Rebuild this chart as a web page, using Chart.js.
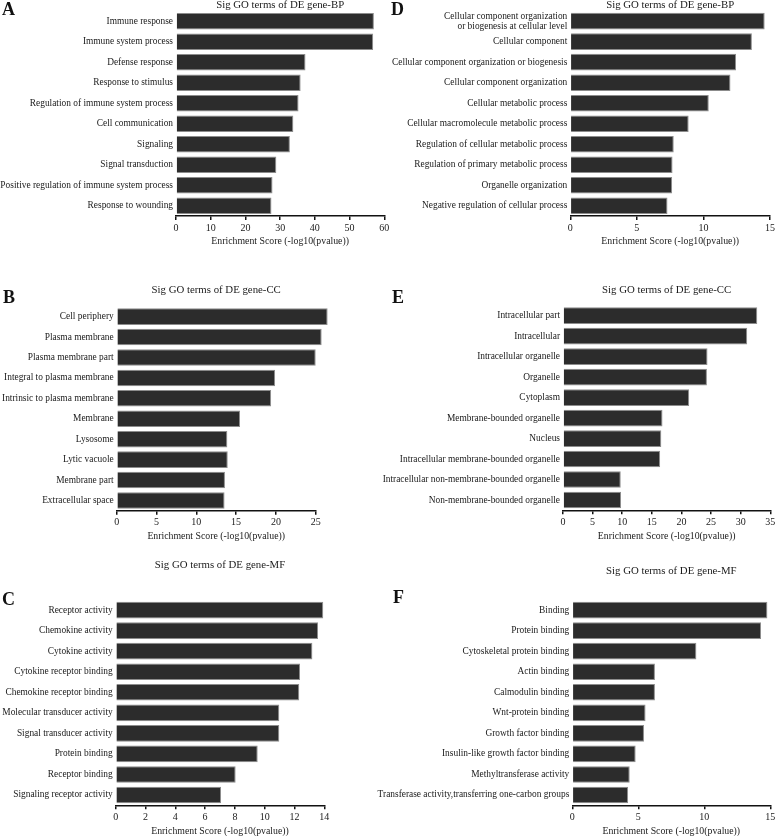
<!DOCTYPE html>
<html>
<head>
<meta charset="utf-8">
<script src="https://cdn.jsdelivr.net/npm/chart.js@4.4.0/dist/chart.umd.min.js"></script>
<style>
  body { margin: 0; background: #fff; }
  #figure { position: relative; width: 777px; height: 836px; overflow: hidden; background: #fff; }
  #figure canvas { position: absolute; }
  .panel-letter {
    position: absolute;
    font-family: 'Liberation Serif', 'Times New Roman', serif;
    font-weight: bold;
    font-size: 18px;
    line-height: 1;
    color: #111;
  }
</style>
</head>
<body>
<div id="figure"></div>
<script>
// A - biological process
const termsA = ['Immune response', 'Immune system process', 'Defense response', 'Response to stimulus',
    'Regulation of immune system process', 'Cell communication', 'Signaling', 'Signal transduction',
    'Positive regulation of immune system process', 'Response to wounding'];
const scoresA = [57.0, 56.8, 37.3, 35.9, 35.3, 33.8, 32.8, 28.9, 27.8, 27.5];

// B - cellular component
const termsB = ['Cell periphery', 'Plasma membrane', 'Plasma membrane part', 'Integral to plasma membrane',
    'Intrinsic to plasma membrane', 'Membrane', 'Lysosome', 'Lytic vacuole', 'Membrane part', 'Extracellular space'];
const scoresB = [26.5, 25.75, 25.0, 19.9, 19.4, 15.5, 13.9, 13.95, 13.6, 13.55];

// C - molecular function
const termsC = ['Receptor activity', 'Chemokine activity', 'Cytokine activity', 'Cytokine receptor binding',
    'Chemokine receptor binding', 'Molecular transducer activity', 'Signal transducer activity',
    'Protein binding', 'Receptor binding', 'Signaling receptor activity'];
const scoresC = [13.93, 13.58, 13.2, 12.37, 12.32, 10.98, 10.98, 9.53, 8.05, 7.07];

// D - biological process (second set)
const termsD = [['Cellular component organization', 'or biogenesis at cellular level'], 'Cellular component',
    'Cellular component organization or biogenesis', 'Cellular component organization',
    'Cellular metabolic process', 'Cellular macromolecule metabolic process',
    'Regulation of cellular metabolic process', 'Regulation of primary metabolic process',
    'Organelle organization', 'Negative regulation of cellular process'];
const scoresD = [14.6, 13.64, 12.45, 12.03, 10.4, 8.89, 7.77, 7.68, 7.65, 7.3];

// E - cellular component (second set)
const termsE = ['Intracellular part', 'Intracellular', 'Intracellular organelle', 'Organelle', 'Cytoplasm',
    'Membrane-bounded organelle', 'Nucleus', 'Intracellular membrane-bounded organelle',
    'Intracellular non-membrane-bounded organelle', 'Non-membrane-bounded organelle'];
const scoresE = [32.8, 31.1, 24.4, 24.3, 21.3, 16.8, 16.6, 16.4, 9.75, 9.8];

// F - molecular function (second set)
const termsF = ['Binding', 'Protein binding', 'Cytoskeletal protein binding', 'Actin binding', 'Calmodulin binding',
    'Wnt-protein binding', 'Growth factor binding', 'Insulin-like growth factor binding',
    'Methyltransferase activity', 'Transferase activity,transferring one-carbon groups'];
const scoresF = [14.78, 14.3, 9.4, 6.26, 6.26, 5.55, 5.43, 4.8, 4.35, 4.23];

// axis ranges per panel
const axisMax = { A: 60, B: 25, C: 14, D: 15, E: 35, F: 15 };
const axisStep = { A: 10, B: 5, C: 2, D: 5, E: 5, F: 5 };

const xAxisLabel = 'Enrichment Score (-log10(pvalue))';
const serif = "'Liberation Serif', 'Times New Roman', serif";

// Page placement of each panel (pixels)
const panels = [
    { id: 'A', title: 'Sig GO terms of DE gene-BP', terms: termsA, scores: scoresA,
      left: 0, width: 395, plotLeft: 176, plotRight: 384.3, titleY: 5, plotTop: 11, plotBottom: 216,
      tickY: 228, axisTitleY: 241, letter: [2, 0] },
    { id: 'B', title: 'Sig GO terms of DE gene-CC', terms: termsB, scores: scoresB,
      left: 0, width: 395, plotLeft: 116.7, plotRight: 315.7, titleY: 290, plotTop: 306.4, plotBottom: 510.7,
      tickY: 522, axisTitleY: 536.7, letter: [3, 288] },
    { id: 'C', title: 'Sig GO terms of DE gene-MF', terms: termsC, scores: scoresC,
      left: 0, width: 395, plotLeft: 115.7, plotRight: 324.3, titleY: 565, plotTop: 599.8, plotBottom: 805.3,
      tickY: 817, axisTitleY: 831, letter: [2, 590] },
    { id: 'D', title: 'Sig GO terms of DE gene-BP', terms: termsD, scores: scoresD,
      left: 360, width: 417, plotLeft: 570.3, plotRight: 772.3, titleY: 5.5, plotTop: 10, plotBottom: 216,
      tickY: 228, axisTitleY: 241, letter: [391, 0], labelLineHeight: 1.05 },
    { id: 'E', title: 'Sig GO terms of DE gene-CC', terms: termsE, scores: scoresE,
      left: 360, width: 417, plotLeft: 563, plotRight: 772.3, titleY: 290, plotTop: 305.4, plotBottom: 510.3,
      tickY: 522, axisTitleY: 536.7, letter: [392, 288] },
    { id: 'F', title: 'Sig GO terms of DE gene-MF', terms: termsF, scores: scoresF,
      left: 360, width: 417, plotLeft: 572.3, plotRight: 772.3, titleY: 571, plotTop: 599.8, plotBottom: 805.3,
      tickY: 817, axisTitleY: 831, letter: [393, 588] }
];

const figure = document.getElementById('figure');

panels.forEach(p => {
    const titleSize = 10.8;
    const titleBox = titleSize; // lineHeight 1
    const canvasTop = Math.floor(p.titleY - titleBox / 2);
    const titlePadTop = p.titleY - titleBox / 2 - canvasTop;
    const titlePadBottom = Math.max(0, p.plotTop - (p.titleY + titleBox / 2));

    const tickFont = { family: serif, size: 10, lineHeight: 1.2 };
    const axisTitleFont = { family: serif, size: 9.8, lineHeight: 1.2 };
    const tickLen = 4;
    const xScaleHeight = p.axisTitleY + axisTitleFont.size * axisTitleFont.lineHeight / 2 - p.plotBottom;
    const tickPad = p.tickY - p.plotBottom - tickLen - tickFont.size * tickFont.lineHeight / 2;

    const rawHeight = p.plotBottom + xScaleHeight - canvasTop;
    const canvasHeight = Math.ceil(rawHeight);
    const yWidth = p.plotLeft - p.left;

    const canvas = document.createElement('canvas');
    canvas.width = p.width;
    canvas.height = canvasHeight;
    canvas.style.left = p.left + 'px';
    canvas.style.top = canvasTop + 'px';
    figure.appendChild(canvas);

    const letter = document.createElement('div');
    letter.className = 'panel-letter';
    letter.textContent = p.id;
    letter.style.left = p.letter[0] + 'px';
    letter.style.top = p.letter[1] + 'px';
    figure.appendChild(letter);

    new Chart(canvas, {
        type: 'bar',
        data: {
            labels: p.terms,
            datasets: [{
                data: p.scores,
                backgroundColor: '#2c2c2c',
                borderColor: '#8c8c8c',
                borderWidth: 1,
                barPercentage: 0.81,
                categoryPercentage: 1,
                clip: false
            }]
        },
        options: {
            responsive: false,
            animation: false,
            indexAxis: 'y',
            layout: {
                autoPadding: false,
                padding: {
                    left: 0,
                    top: 0,
                    right: p.left + p.width - p.plotRight,
                    bottom: canvasHeight - rawHeight
                }
            },
            plugins: {
                legend: { display: false },
                tooltip: { enabled: false },
                title: {
                    display: true,
                    text: p.title,
                    fullSize: false,
                    color: '#1a1a1a',
                    font: { family: serif, size: titleSize, weight: 'normal', lineHeight: 1 },
                    padding: { top: titlePadTop, bottom: titlePadBottom }
                }
            },
            scales: {
                x: {
                    type: 'linear',
                    min: 0,
                    max: axisMax[p.id],
                    ticks: {
                        stepSize: axisStep[p.id],
                        padding: tickPad,
                        font: tickFont,
                        color: '#1a1a1a',
                        maxRotation: 0,
                        autoSkip: false
                    },
                    grid: { drawOnChartArea: false, drawTicks: true, tickLength: tickLen, color: '#111', lineWidth: 1.5 },
                    border: { display: true, color: '#111', width: 1.5 },
                    title: { display: true, text: xAxisLabel, color: '#1a1a1a', font: axisTitleFont, padding: 0 },
                    afterFit: scale => { scale.height = xScaleHeight; }
                },
                y: {
                    ticks: {
                        padding: 3,
                        autoSkip: false,
                        color: '#1a1a1a',
                        font: { family: serif, size: 9.4, lineHeight: p.labelLineHeight || 1.2 }
                    },
                    grid: { display: false, drawTicks: false },
                    border: { display: false },
                    afterFit: scale => { scale.width = yWidth; }
                }
            }
        }
    });
});
</script>
</body>
</html>
